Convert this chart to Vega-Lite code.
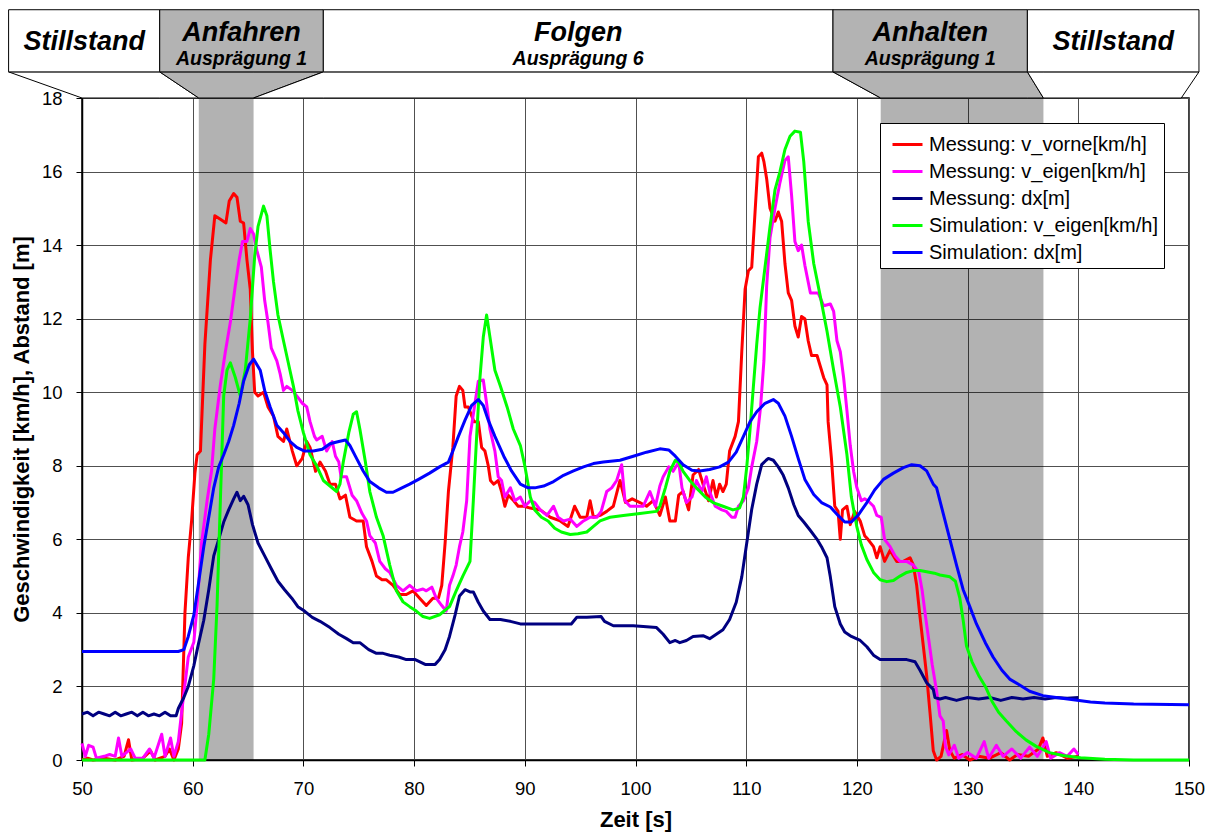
{
  "$schema": "https://vega.github.io/schema/vega-lite/v6.json",
  "width": 1107,
  "height": 662,
  "autosize": {"type": "none"},
  "padding": {"left": 82, "top": 98, "right": 24, "bottom": 74},
  "background": "white",
  "config": {
    "font": "Liberation Sans",
    "view": {"stroke": "black", "strokeWidth": 1.5},
    "axis": {"domainColor": "black", "domainWidth": 1.5, "tickColor": "black", "tickWidth": 1, "tickSize": 6, "labelColor": "black", "labelFont": "Liberation Sans", "labelFontSize": 18.5, "titleColor": "black", "titleFont": "Liberation Sans", "titleFontSize": 22, "titleFontWeight": "bold", "gridColor": "#505050", "gridWidth": 1, "gridOpacity": 1, "labelFlush": false, "labelOverlap": false},
    "axisX": {"labelPadding": 13, "titlePadding": 12},
    "axisY": {"labelPadding": 14, "titlePadding": 8}
  },
  "datasets": {
    "phases": [
      {"nr": 1, "phase": "Stillstand", "sub": "", "kind": "Zustand", "start": 50, "end": 60.55, "box_start": 43.37, "box_end": 57.02},
      {"nr": 2, "phase": "Anfahren", "sub": "Ausprägung 1", "kind": "Übergang", "start": 60.55, "end": 65.5, "box_start": 57.02, "box_end": 71.8},
      {"nr": 3, "phase": "Folgen", "sub": "Ausprägung 6", "kind": "Zustand", "start": 65.5, "end": 122.15, "box_start": 71.8, "box_end": 117.84},
      {"nr": 4, "phase": "Anhalten", "sub": "Ausprägung 1", "kind": "Übergang", "start": 122.15, "end": 136.85, "box_start": 117.84, "box_end": 135.4},
      {"nr": 5, "phase": "Stillstand", "sub": "", "kind": "Zustand", "start": 136.85, "end": 149.3, "box_start": 135.4, "box_end": 150.9}
    ],
    "connectors": [
      {"nr": 1, "kind": "Zustand", "t": 43.37, "lo": 18.71, "hi": 18.71},
      {"nr": 1, "kind": "Zustand", "t": 50, "lo": 18, "hi": 18.71},
      {"nr": 1, "kind": "Zustand", "t": 57.02, "lo": 18, "hi": 18.71},
      {"nr": 1, "kind": "Zustand", "t": 60.55, "lo": 18, "hi": 18},
      {"nr": 2, "kind": "Übergang", "t": 57.02, "lo": 18.71, "hi": 18.71},
      {"nr": 2, "kind": "Übergang", "t": 60.55, "lo": 18, "hi": 18.71},
      {"nr": 2, "kind": "Übergang", "t": 65.5, "lo": 18, "hi": 18.71},
      {"nr": 2, "kind": "Übergang", "t": 71.8, "lo": 18.71, "hi": 18.71},
      {"nr": 3, "kind": "Zustand", "t": 65.5, "lo": 18, "hi": 18},
      {"nr": 3, "kind": "Zustand", "t": 71.8, "lo": 18, "hi": 18.71},
      {"nr": 3, "kind": "Zustand", "t": 117.84, "lo": 18, "hi": 18.71},
      {"nr": 3, "kind": "Zustand", "t": 122.15, "lo": 18, "hi": 18},
      {"nr": 4, "kind": "Übergang", "t": 117.84, "lo": 18.71, "hi": 18.71},
      {"nr": 4, "kind": "Übergang", "t": 122.15, "lo": 18, "hi": 18.71},
      {"nr": 4, "kind": "Übergang", "t": 135.4, "lo": 18, "hi": 18.71},
      {"nr": 4, "kind": "Übergang", "t": 136.85, "lo": 18, "hi": 18},
      {"nr": 5, "kind": "Zustand", "t": 135.4, "lo": 18.71, "hi": 18.71},
      {"nr": 5, "kind": "Zustand", "t": 136.85, "lo": 18, "hi": 18.71},
      {"nr": 5, "kind": "Zustand", "t": 149.3, "lo": 18, "hi": 18.71},
      {"nr": 5, "kind": "Zustand", "t": 150.9, "lo": 18.71, "hi": 18.71}
    ],
    "v_vorne": [
      {"t":50,"v":0},{"t":50.5,"v":0.05},{"t":51,"v":0},{"t":52,"v":0.05},{"t":53,"v":0},{"t":53.8,"v":0.1},{"t":54.2,"v":0.55},{"t":54.5,"v":0},{"t":55.5,"v":0.05},{"t":56.2,"v":0.25},{"t":56.6,"v":0},{"t":57.5,"v":0.1},{"t":57.9,"v":0.3},{"t":58.3,"v":0},{"t":58.7,"v":0.3},{"t":59,"v":1},{"t":59.3,"v":4},{"t":59.6,"v":5.5},{"t":59.9,"v":6.5},{"t":60.2,"v":7.8},{"t":60.4,"v":8.3},{"t":60.7,"v":8.4},{"t":61.1,"v":11.3},{"t":61.6,"v":13.6},{"t":62,"v":14.8},{"t":62.5,"v":14.7},{"t":63,"v":14.6},{"t":63.3,"v":15.2},{"t":63.7,"v":15.4},{"t":64,"v":15.3},{"t":64.3,"v":14.65},{"t":64.6,"v":14.6},{"t":64.9,"v":13.6},{"t":65.2,"v":12.8},{"t":65.4,"v":11.1},{"t":65.6,"v":10},{"t":65.9,"v":9.9},{"t":66.4,"v":10},{"t":66.8,"v":9.6},{"t":67.3,"v":9.35},{"t":67.7,"v":8.8},{"t":68.2,"v":8.66},{"t":68.5,"v":9},{"t":69,"v":8.4},{"t":69.4,"v":8},{"t":69.9,"v":8.2},{"t":70.3,"v":8.66},{"t":70.6,"v":8.5},{"t":71.1,"v":7.85},{"t":71.5,"v":8.1},{"t":72,"v":7.85},{"t":72.4,"v":7.5},{"t":72.9,"v":7.5},{"t":73.3,"v":7.1},{"t":73.8,"v":7.2},{"t":74.2,"v":6.6},{"t":74.8,"v":6.5},{"t":75.4,"v":6.5},{"t":75.7,"v":5.8},{"t":76.2,"v":5.4},{"t":76.6,"v":5},{"t":77.1,"v":4.9},{"t":77.5,"v":4.9},{"t":78.1,"v":4.75},{"t":78.7,"v":4.5},{"t":79.3,"v":4.5},{"t":79.9,"v":4.6},{"t":80.5,"v":4.4},{"t":81.1,"v":4.2},{"t":81.7,"v":4.4},{"t":82.2,"v":4.4},{"t":82.5,"v":4.75},{"t":82.8,"v":5.9},{"t":83.1,"v":7.3},{"t":83.5,"v":8.5},{"t":83.8,"v":9.9},{"t":84.1,"v":10.16},{"t":84.4,"v":10.05},{"t":84.6,"v":9.6},{"t":84.9,"v":9.6},{"t":85.4,"v":9.2},{"t":85.8,"v":9.2},{"t":86.1,"v":8.5},{"t":86.4,"v":8.4},{"t":86.7,"v":8},{"t":86.9,"v":7.6},{"t":87.2,"v":7.5},{"t":87.6,"v":7.6},{"t":87.9,"v":7.3},{"t":88.2,"v":6.9},{"t":88.5,"v":7.2},{"t":89,"v":7.05},{"t":89.4,"v":6.9},{"t":89.9,"v":6.9},{"t":90.5,"v":6.85},{"t":91.4,"v":6.8},{"t":92.3,"v":6.6},{"t":93.2,"v":6.5},{"t":93.9,"v":6.35},{"t":94.5,"v":6.9},{"t":95,"v":6.6},{"t":95.6,"v":6.6},{"t":95.9,"v":7.05},{"t":96.2,"v":6.6},{"t":96.8,"v":6.65},{"t":97.4,"v":6.76},{"t":98,"v":6.9},{"t":98.6,"v":7.6},{"t":99.1,"v":7},{"t":99.7,"v":7.1},{"t":100.4,"v":7},{"t":101,"v":6.9},{"t":101.6,"v":7.05},{"t":102.2,"v":6.65},{"t":102.7,"v":7.15},{"t":103.1,"v":6.5},{"t":103.6,"v":6.5},{"t":103.9,"v":7.2},{"t":104.3,"v":7.3},{"t":104.8,"v":6.8},{"t":105.2,"v":7.75},{"t":105.7,"v":7.9},{"t":106.1,"v":7.5},{"t":106.6,"v":7.05},{"t":107,"v":7.6},{"t":107.3,"v":7.15},{"t":107.6,"v":7.5},{"t":107.9,"v":7.3},{"t":108.2,"v":7.5},{"t":108.5,"v":8.4},{"t":109,"v":8.8},{"t":109.3,"v":9.2},{"t":109.6,"v":11.1},{"t":109.9,"v":12.8},{"t":110.2,"v":13.3},{"t":110.5,"v":13.4},{"t":110.8,"v":14.9},{"t":111.1,"v":16.4},{"t":111.4,"v":16.5},{"t":111.6,"v":16.27},{"t":111.85,"v":15.8},{"t":112.15,"v":15},{"t":112.6,"v":14.65},{"t":112.9,"v":14.9},{"t":113.2,"v":14.65},{"t":113.5,"v":13.5},{"t":113.8,"v":12.7},{"t":114.1,"v":12.5},{"t":114.4,"v":11.8},{"t":114.7,"v":11.5},{"t":115,"v":12.06},{"t":115.3,"v":12},{"t":115.6,"v":11.4},{"t":115.9,"v":11},{"t":116.4,"v":11},{"t":116.7,"v":10.7},{"t":117,"v":10.4},{"t":117.3,"v":10.2},{"t":117.4,"v":9.2},{"t":117.7,"v":8.2},{"t":118,"v":6.9},{"t":118.3,"v":6.76},{"t":118.5,"v":6},{"t":118.7,"v":6.8},{"t":119.1,"v":6.9},{"t":119.4,"v":6.4},{"t":119.8,"v":6.76},{"t":120.3,"v":6.5},{"t":120.7,"v":6.1},{"t":121,"v":6},{"t":121.5,"v":5.8},{"t":121.8,"v":5.5},{"t":122.1,"v":5.8},{"t":122.5,"v":5.4},{"t":123,"v":5.7},{"t":123.6,"v":5.4},{"t":124.2,"v":5.4},{"t":124.8,"v":5.5},{"t":125.1,"v":5.3},{"t":125.4,"v":4.75},{"t":125.7,"v":3.9},{"t":126,"v":3.1},{"t":126.3,"v":2.3},{"t":126.6,"v":1.3},{"t":126.9,"v":0.25},{"t":127.2,"v":0},{"t":127.6,"v":0.1},{"t":128.1,"v":0.8},{"t":128.4,"v":0.25},{"t":128.8,"v":0.05},{"t":129.5,"v":0.15},{"t":130.2,"v":0},{"t":131,"v":0.1},{"t":132,"v":0.05},{"t":133,"v":0.2},{"t":133.8,"v":0},{"t":134.5,"v":0.15},{"t":135.5,"v":0.1},{"t":136.4,"v":0.3},{"t":136.8,"v":0.6},{"t":137.2,"v":0.1},{"t":138,"v":0.2},{"t":139,"v":0.05},{"t":140,"v":0.1}
    ],
    "v_eigen": [
      {"t":50,"v":0.45},{"t":50.3,"v":0.1},{"t":50.6,"v":0.4},{"t":51,"v":0.35},{"t":51.3,"v":0.05},{"t":52,"v":0.1},{"t":52.5,"v":0.15},{"t":53,"v":0.1},{"t":53.3,"v":0.6},{"t":53.6,"v":0.1},{"t":54.4,"v":0.3},{"t":54.8,"v":0.05},{"t":55.5,"v":0.05},{"t":56.1,"v":0.3},{"t":56.5,"v":0.05},{"t":57.2,"v":0.7},{"t":57.5,"v":0.1},{"t":58,"v":0.6},{"t":58.3,"v":0.1},{"t":58.7,"v":0.5},{"t":59,"v":1.3},{"t":59.6,"v":2.8},{"t":60.1,"v":3.2},{"t":60.4,"v":4.2},{"t":60.8,"v":5.9},{"t":61.3,"v":7.05},{"t":61.7,"v":7.85},{"t":62,"v":9},{"t":62.5,"v":10.2},{"t":62.95,"v":11.1},{"t":63.4,"v":11.9},{"t":63.85,"v":12.9},{"t":64.2,"v":13.6},{"t":64.5,"v":14.1},{"t":64.9,"v":14.1},{"t":65.2,"v":14.45},{"t":65.5,"v":14.3},{"t":65.8,"v":13.85},{"t":66.2,"v":13.4},{"t":66.5,"v":12.5},{"t":66.8,"v":11.9},{"t":67.1,"v":11.2},{"t":67.6,"v":10.85},{"t":67.9,"v":10.5},{"t":68.2,"v":10.05},{"t":68.5,"v":10.16},{"t":69,"v":10.05},{"t":69.4,"v":9.9},{"t":69.9,"v":9.7},{"t":70.3,"v":9.6},{"t":70.6,"v":9.2},{"t":71,"v":8.8},{"t":71.2,"v":8.7},{"t":71.7,"v":8.8},{"t":72.1,"v":8.4},{"t":72.6,"v":8.66},{"t":72.9,"v":8.26},{"t":73.2,"v":8.1},{"t":73.4,"v":7.7},{"t":73.9,"v":7.7},{"t":74.4,"v":7.2},{"t":74.8,"v":7.05},{"t":75.3,"v":6.7},{"t":75.7,"v":6.5},{"t":76,"v":6.1},{"t":76.5,"v":5.9},{"t":76.9,"v":5.4},{"t":77.4,"v":5.2},{"t":77.8,"v":5.1},{"t":78.4,"v":4.75},{"t":79,"v":4.6},{"t":79.6,"v":4.75},{"t":80.2,"v":4.6},{"t":80.8,"v":4.65},{"t":81.1,"v":4.6},{"t":81.6,"v":4.7},{"t":82,"v":4.4},{"t":82.5,"v":4.2},{"t":82.9,"v":4.05},{"t":83.2,"v":4.75},{"t":83.5,"v":5},{"t":83.8,"v":5.3},{"t":84.1,"v":5.8},{"t":84.4,"v":6.2},{"t":84.75,"v":7.05},{"t":85.05,"v":8.8},{"t":85.5,"v":9.7},{"t":85.8,"v":10.3},{"t":86.25,"v":10.33},{"t":86.55,"v":9.7},{"t":86.85,"v":9},{"t":87.3,"v":8.4},{"t":87.6,"v":7.7},{"t":87.9,"v":7.6},{"t":88.2,"v":7.15},{"t":88.7,"v":7.4},{"t":89.1,"v":7.05},{"t":89.6,"v":7.15},{"t":90,"v":6.9},{"t":90.5,"v":7.05},{"t":90.9,"v":7},{"t":91.4,"v":6.8},{"t":92,"v":6.65},{"t":92.6,"v":6.9},{"t":93,"v":6.6},{"t":93.5,"v":6.5},{"t":94.1,"v":6.55},{"t":94.7,"v":6.35},{"t":95.3,"v":6.5},{"t":95.9,"v":6.6},{"t":96.5,"v":6.6},{"t":96.9,"v":6.76},{"t":97.4,"v":7.3},{"t":97.85,"v":7.4},{"t":98.3,"v":7.6},{"t":98.75,"v":8.03},{"t":99.05,"v":7.05},{"t":99.5,"v":6.9},{"t":100.1,"v":6.9},{"t":100.7,"v":6.9},{"t":101.3,"v":7.3},{"t":101.8,"v":6.9},{"t":102.2,"v":7.45},{"t":102.5,"v":7.7},{"t":103,"v":7.97},{"t":103.4,"v":7.85},{"t":103.9,"v":8.1},{"t":104.2,"v":7.4},{"t":104.6,"v":7},{"t":105.1,"v":7.15},{"t":105.5,"v":7.6},{"t":106,"v":7.3},{"t":106.4,"v":7.7},{"t":106.7,"v":7.3},{"t":107.2,"v":6.9},{"t":107.8,"v":6.8},{"t":108.2,"v":6.76},{"t":108.7,"v":6.6},{"t":109,"v":6.6},{"t":109.3,"v":6.9},{"t":109.75,"v":7.05},{"t":110.2,"v":7.4},{"t":110.5,"v":7.97},{"t":110.95,"v":8.66},{"t":111.3,"v":9.6},{"t":111.6,"v":10.85},{"t":111.85,"v":12.9},{"t":112.15,"v":14.2},{"t":112.6,"v":15},{"t":113.05,"v":15.7},{"t":113.5,"v":16.3},{"t":113.8,"v":16.4},{"t":114.1,"v":15.35},{"t":114.4,"v":14.1},{"t":114.7,"v":13.85},{"t":115,"v":14},{"t":115.3,"v":13.45},{"t":115.8,"v":12.7},{"t":116.5,"v":12.7},{"t":117,"v":12.35},{"t":117.6,"v":12.4},{"t":117.9,"v":12.2},{"t":118.2,"v":11.4},{"t":118.5,"v":11.1},{"t":118.8,"v":10.4},{"t":119.1,"v":9.5},{"t":119.4,"v":8.55},{"t":119.7,"v":7.85},{"t":120,"v":7.4},{"t":120.4,"v":7.05},{"t":120.7,"v":7.1},{"t":121,"v":7.05},{"t":121.5,"v":6.9},{"t":121.8,"v":6.65},{"t":122.2,"v":6.6},{"t":122.5,"v":6},{"t":123,"v":5.8},{"t":123.45,"v":5.55},{"t":123.9,"v":5.4},{"t":124.5,"v":5.4},{"t":125.1,"v":5.3},{"t":125.6,"v":5.1},{"t":125.9,"v":4.6},{"t":126.2,"v":3.9},{"t":126.5,"v":3.25},{"t":126.8,"v":2.6},{"t":127.2,"v":1.87},{"t":127.5,"v":1.2},{"t":127.8,"v":1.06},{"t":128,"v":0.37},{"t":128.3,"v":0.14},{"t":128.8,"v":0.4},{"t":129.2,"v":0.05},{"t":130,"v":0.2},{"t":130.8,"v":0.05},{"t":131.5,"v":0.5},{"t":131.9,"v":0.05},{"t":132.6,"v":0.4},{"t":133.2,"v":0.1},{"t":134,"v":0.3},{"t":134.8,"v":0.05},{"t":135.6,"v":0.35},{"t":136.3,"v":0.1},{"t":137.1,"v":0.5},{"t":137.5,"v":0.05},{"t":138.3,"v":0.2},{"t":139,"v":0.1},{"t":139.6,"v":0.3},{"t":140,"v":0.15}
    ],
    "dx_mess": [
      {"t":50,"v":1.25},{"t":50.5,"v":1.3},{"t":51,"v":1.2},{"t":51.5,"v":1.3},{"t":52,"v":1.25},{"t":52.5,"v":1.2},{"t":53,"v":1.3},{"t":53.5,"v":1.2},{"t":54,"v":1.25},{"t":54.5,"v":1.3},{"t":55,"v":1.2},{"t":55.5,"v":1.3},{"t":56,"v":1.2},{"t":56.5,"v":1.25},{"t":57,"v":1.2},{"t":57.5,"v":1.3},{"t":58,"v":1.2},{"t":58.5,"v":1.2},{"t":58.7,"v":1.4},{"t":59.2,"v":1.7},{"t":59.6,"v":2},{"t":60.1,"v":2.56},{"t":60.5,"v":3.13},{"t":61,"v":3.8},{"t":61.45,"v":4.63},{"t":61.9,"v":5.55},{"t":62.35,"v":6},{"t":62.8,"v":6.47},{"t":63.25,"v":6.8},{"t":63.7,"v":7.1},{"t":64,"v":7.28},{"t":64.3,"v":7.05},{"t":64.6,"v":7.17},{"t":65,"v":6.94},{"t":65.4,"v":6.4},{"t":65.9,"v":5.9},{"t":66.5,"v":5.55},{"t":67.1,"v":5.2},{"t":67.7,"v":4.86},{"t":68.3,"v":4.63},{"t":68.95,"v":4.4},{"t":69.5,"v":4.17},{"t":70.1,"v":4.05},{"t":70.8,"v":3.88},{"t":71.5,"v":3.77},{"t":72.4,"v":3.6},{"t":73.2,"v":3.42},{"t":73.9,"v":3.3},{"t":74.5,"v":3.19},{"t":75.1,"v":3.19},{"t":75.9,"v":3},{"t":76.6,"v":2.9},{"t":77.2,"v":2.9},{"t":77.8,"v":2.85},{"t":78.6,"v":2.8},{"t":79.3,"v":2.73},{"t":80.1,"v":2.73},{"t":81,"v":2.6},{"t":81.9,"v":2.6},{"t":82.3,"v":2.73},{"t":82.8,"v":3},{"t":83.2,"v":3.36},{"t":83.7,"v":3.94},{"t":84.1,"v":4.46},{"t":84.6,"v":4.63},{"t":85.05,"v":4.57},{"t":85.35,"v":4.57},{"t":85.8,"v":4.29},{"t":86.25,"v":4.05},{"t":86.85,"v":3.82},{"t":87.8,"v":3.82},{"t":88.7,"v":3.77},{"t":89.6,"v":3.7},{"t":91.1,"v":3.7},{"t":92.6,"v":3.7},{"t":94.2,"v":3.7},{"t":94.7,"v":3.88},{"t":95.6,"v":3.88},{"t":96.9,"v":3.9},{"t":97.2,"v":3.77},{"t":98,"v":3.65},{"t":99.8,"v":3.65},{"t":101.9,"v":3.6},{"t":102.5,"v":3.42},{"t":103.1,"v":3.19},{"t":103.6,"v":3.25},{"t":104,"v":3.19},{"t":104.6,"v":3.25},{"t":105.2,"v":3.36},{"t":106.1,"v":3.38},{"t":106.7,"v":3.3},{"t":107.3,"v":3.42},{"t":107.9,"v":3.54},{"t":108.5,"v":3.82},{"t":109.1,"v":4.29},{"t":109.6,"v":4.98},{"t":110.05,"v":5.9},{"t":110.5,"v":6.82},{"t":110.95,"v":7.5},{"t":111.4,"v":8.03},{"t":111.8,"v":8.15},{"t":112,"v":8.2},{"t":112.45,"v":8.15},{"t":112.9,"v":7.97},{"t":113.35,"v":7.74},{"t":113.8,"v":7.4},{"t":114.3,"v":6.94},{"t":114.7,"v":6.65},{"t":115.2,"v":6.47},{"t":115.8,"v":6.24},{"t":116.4,"v":6},{"t":116.8,"v":5.8},{"t":117.3,"v":5.5},{"t":117.6,"v":4.98},{"t":118,"v":4.17},{"t":118.5,"v":3.7},{"t":118.9,"v":3.48},{"t":119.5,"v":3.36},{"t":120.3,"v":3.25},{"t":120.9,"v":3.08},{"t":121.5,"v":2.85},{"t":122.1,"v":2.73},{"t":123.3,"v":2.73},{"t":124.5,"v":2.73},{"t":125.25,"v":2.67},{"t":125.7,"v":2.44},{"t":126.3,"v":2.1},{"t":126.9,"v":1.92},{"t":127.05,"v":1.7},{"t":127.5,"v":1.66},{"t":128,"v":1.7},{"t":129,"v":1.62},{"t":130,"v":1.7},{"t":131,"v":1.66},{"t":132,"v":1.7},{"t":133,"v":1.62},{"t":134,"v":1.7},{"t":135,"v":1.66},{"t":136,"v":1.7},{"t":137,"v":1.66},{"t":138,"v":1.7},{"t":139,"v":1.68},{"t":140,"v":1.7}
    ],
    "v_sim": [
      {"t":50,"v":0},{"t":61.1,"v":0},{"t":61.45,"v":0.7},{"t":61.9,"v":2.2},{"t":62.2,"v":4.2},{"t":62.5,"v":7.05},{"t":62.8,"v":9.9},{"t":63.1,"v":10.6},{"t":63.4,"v":10.8},{"t":63.85,"v":10.4},{"t":64.3,"v":9.9},{"t":64.75,"v":10.6},{"t":65.2,"v":12},{"t":65.6,"v":13.7},{"t":65.9,"v":14.5},{"t":66.4,"v":15.06},{"t":66.7,"v":14.8},{"t":67,"v":13.85},{"t":67.3,"v":13},{"t":67.7,"v":12.1},{"t":68.2,"v":11.4},{"t":68.6,"v":10.85},{"t":69.1,"v":10.16},{"t":69.5,"v":9.5},{"t":70,"v":8.9},{"t":70.6,"v":8.3},{"t":71.2,"v":8},{"t":71.8,"v":7.6},{"t":72.4,"v":7.45},{"t":73,"v":7.3},{"t":73.3,"v":7.5},{"t":73.6,"v":8.1},{"t":74.1,"v":8.9},{"t":74.5,"v":9.4},{"t":74.8,"v":9.47},{"t":75.1,"v":9},{"t":75.6,"v":8.1},{"t":76,"v":7.3},{"t":76.6,"v":6.6},{"t":77.2,"v":6.1},{"t":77.8,"v":5.3},{"t":78.4,"v":4.6},{"t":79,"v":4.3},{"t":79.6,"v":4.17},{"t":80.2,"v":4.05},{"t":80.8,"v":3.9},{"t":81.4,"v":3.85},{"t":82.3,"v":3.95},{"t":83.2,"v":4.17},{"t":83.8,"v":4.6},{"t":84.4,"v":5},{"t":85.05,"v":5.4},{"t":85.35,"v":7.05},{"t":85.65,"v":8.8},{"t":85.95,"v":10.4},{"t":86.25,"v":11.5},{"t":86.55,"v":12.1},{"t":86.85,"v":11.5},{"t":87.3,"v":10.6},{"t":87.8,"v":10.16},{"t":88.4,"v":9.6},{"t":88.96,"v":9},{"t":89.6,"v":8.55},{"t":90,"v":8},{"t":90.5,"v":7.15},{"t":90.9,"v":6.8},{"t":91.5,"v":6.6},{"t":92.1,"v":6.5},{"t":92.7,"v":6.3},{"t":93.3,"v":6.2},{"t":94.1,"v":6.13},{"t":94.8,"v":6.15},{"t":95.6,"v":6.2},{"t":96.2,"v":6.35},{"t":96.8,"v":6.5},{"t":97.7,"v":6.6},{"t":98.9,"v":6.65},{"t":100.4,"v":6.7},{"t":101.9,"v":6.76},{"t":102.2,"v":6.9},{"t":102.7,"v":7.4},{"t":103.1,"v":7.85},{"t":103.6,"v":8.15},{"t":103.9,"v":8.1},{"t":104.3,"v":7.85},{"t":104.9,"v":7.6},{"t":105.5,"v":7.4},{"t":106.3,"v":7.15},{"t":107,"v":7},{"t":107.9,"v":6.9},{"t":108.8,"v":6.8},{"t":109.4,"v":6.85},{"t":109.75,"v":7.15},{"t":110.05,"v":7.97},{"t":110.35,"v":9},{"t":110.65,"v":10.16},{"t":110.95,"v":11.3},{"t":111.25,"v":12.3},{"t":111.7,"v":13.4},{"t":112.15,"v":14.5},{"t":112.6,"v":15.5},{"t":113.05,"v":16},{"t":113.5,"v":16.6},{"t":113.96,"v":16.96},{"t":114.4,"v":17.1},{"t":114.9,"v":17.07},{"t":115.2,"v":16.27},{"t":115.6,"v":14.65},{"t":116.1,"v":13.5},{"t":116.7,"v":12.6},{"t":117.3,"v":11.66},{"t":117.9,"v":10.6},{"t":118.5,"v":9.6},{"t":119.1,"v":8.3},{"t":119.5,"v":7.15},{"t":119.98,"v":6.36},{"t":120.4,"v":5.85},{"t":120.9,"v":5.45},{"t":121.5,"v":5.1},{"t":122.1,"v":4.9},{"t":122.7,"v":4.85},{"t":123.3,"v":4.88},{"t":123.9,"v":5},{"t":124.5,"v":5.1},{"t":125.1,"v":5.15},{"t":125.7,"v":5.15},{"t":126.3,"v":5.12},{"t":127,"v":5.08},{"t":127.5,"v":5.03},{"t":128.4,"v":4.98},{"t":128.9,"v":4.86},{"t":129.3,"v":4.4},{"t":129.6,"v":3.8},{"t":129.9,"v":3.1},{"t":130.4,"v":2.67},{"t":131,"v":2.3},{"t":131.6,"v":2},{"t":132.2,"v":1.6},{"t":132.8,"v":1.3},{"t":133.5,"v":1.06},{"t":134.4,"v":0.77},{"t":135.3,"v":0.54},{"t":136.2,"v":0.37},{"t":137.4,"v":0.2},{"t":138.6,"v":0.12},{"t":140.2,"v":0.06},{"t":142.4,"v":0.02},{"t":145,"v":0},{"t":150,"v":0}
    ],
    "dx_sim": [
      {"t":50,"v":2.95},{"t":58.7,"v":2.95},{"t":59.2,"v":3},{"t":59.6,"v":3.36},{"t":60.1,"v":3.94},{"t":60.5,"v":4.75},{"t":61,"v":5.8},{"t":61.45,"v":6.6},{"t":61.9,"v":7.4},{"t":62.35,"v":7.97},{"t":62.8,"v":8.3},{"t":63.25,"v":8.66},{"t":63.7,"v":9.1},{"t":64.2,"v":9.7},{"t":64.6,"v":10.3},{"t":65.1,"v":10.74},{"t":65.5,"v":10.9},{"t":66.1,"v":10.6},{"t":66.5,"v":10.05},{"t":67,"v":9.6},{"t":67.6,"v":9.1},{"t":68.2,"v":8.9},{"t":68.8,"v":8.66},{"t":69.4,"v":8.5},{"t":70.1,"v":8.4},{"t":70.9,"v":8.4},{"t":71.7,"v":8.45},{"t":72.4,"v":8.6},{"t":73.2,"v":8.66},{"t":73.8,"v":8.7},{"t":74.2,"v":8.55},{"t":74.8,"v":8.2},{"t":75.4,"v":7.86},{"t":76,"v":7.57},{"t":76.8,"v":7.4},{"t":77.5,"v":7.28},{"t":78.1,"v":7.28},{"t":78.9,"v":7.4},{"t":79.6,"v":7.5},{"t":80.4,"v":7.63},{"t":81.4,"v":7.8},{"t":82.3,"v":7.97},{"t":83.1,"v":8.1},{"t":83.5,"v":8.4},{"t":84,"v":8.8},{"t":84.6,"v":9.24},{"t":85.2,"v":9.64},{"t":85.8,"v":9.8},{"t":86.25,"v":9.64},{"t":86.7,"v":9.24},{"t":87.3,"v":8.8},{"t":88.1,"v":8.26},{"t":88.8,"v":7.86},{"t":89.6,"v":7.5},{"t":90.3,"v":7.4},{"t":90.9,"v":7.4},{"t":91.7,"v":7.45},{"t":92.6,"v":7.57},{"t":93.5,"v":7.74},{"t":94.4,"v":7.86},{"t":95.3,"v":7.97},{"t":96.2,"v":8.06},{"t":97.1,"v":8.1},{"t":98.6,"v":8.15},{"t":99.8,"v":8.26},{"t":101,"v":8.37},{"t":102.2,"v":8.46},{"t":103,"v":8.43},{"t":103.6,"v":8.26},{"t":104.3,"v":8.03},{"t":105.1,"v":7.88},{"t":105.8,"v":7.86},{"t":106.7,"v":7.9},{"t":107.6,"v":7.97},{"t":108.4,"v":8.1},{"t":109.1,"v":8.37},{"t":109.75,"v":8.8},{"t":110.35,"v":9.2},{"t":110.95,"v":9.47},{"t":111.7,"v":9.7},{"t":112.45,"v":9.8},{"t":112.9,"v":9.7},{"t":113.5,"v":9.35},{"t":114.1,"v":8.8},{"t":114.7,"v":8.2},{"t":115.3,"v":7.63},{"t":116.1,"v":7.22},{"t":116.8,"v":7},{"t":117.6,"v":6.88},{"t":118.3,"v":6.65},{"t":118.9,"v":6.47},{"t":119.5,"v":6.47},{"t":120.1,"v":6.65},{"t":120.9,"v":7},{"t":121.6,"v":7.34},{"t":122.4,"v":7.63},{"t":123.3,"v":7.8},{"t":124.2,"v":7.95},{"t":124.95,"v":8.03},{"t":125.7,"v":8},{"t":126.3,"v":7.86},{"t":126.9,"v":7.5},{"t":127.2,"v":7.4},{"t":127.8,"v":6.7},{"t":128.4,"v":6},{"t":129,"v":5.3},{"t":129.6,"v":4.63},{"t":130.2,"v":4.17},{"t":130.8,"v":3.7},{"t":131.6,"v":3.19},{"t":132.3,"v":2.8},{"t":133.1,"v":2.44},{"t":133.8,"v":2.2},{"t":134.7,"v":2.04},{"t":135.6,"v":1.87},{"t":136.8,"v":1.75},{"t":138,"v":1.7},{"t":139.55,"v":1.64},{"t":141.1,"v":1.58},{"t":142.4,"v":1.55},{"t":145,"v":1.52},{"t":150,"v":1.5}
    ]
  },
  "layer": [
    {
      "data": {"name": "phases"},
      "transform": [{"filter": "datum.kind === 'Übergang'"}],
      "mark": {"type": "rect", "fill": "black", "fillOpacity": 0.3},
      "encoding": {
        "x": {"field": "start", "type": "quantitative", "scale": {"domain": [50, 150], "nice": false}, "title": "Zeit [s]", "axis": {"values": [50, 60, 70, 80, 90, 100, 110, 120, 130, 140, 150]}},
        "x2": {"field": "end"}
      }
    },
    {
      "data": {"name": "connectors"},
      "mark": {"type": "area", "orient": "vertical", "stroke": "black", "strokeWidth": 1, "clip": false},
      "encoding": {
        "x": {"field": "t", "type": "quantitative", "scale": {"domain": [50, 150], "nice": false}, "title": "Zeit [s]"},
        "y": {"field": "lo", "type": "quantitative", "scale": {"domain": [0, 18], "nice": false}, "title": "Geschwindigkeit [km/h], Abstand [m]", "axis": {"values": [0, 2, 4, 6, 8, 10, 12, 14, 16, 18]}},
        "y2": {"field": "hi"},
        "detail": {"field": "nr"},
        "fill": {"field": "kind", "type": "nominal", "scale": {"domain": ["Übergang", "Zustand"], "range": ["#b3b3b3", "white"]}, "legend": null}
      }
    },
    {
      "data": {"name": "phases"},
      "mark": {"type": "rect", "stroke": "black", "strokeWidth": 1, "clip": false},
      "encoding": {
        "x": {"field": "box_start", "type": "quantitative", "scale": {"domain": [50, 150], "nice": false}, "title": "Zeit [s]"},
        "x2": {"field": "box_end"},
        "y": {"datum": 20.4, "type": "quantitative", "scale": {"domain": [0, 18], "nice": false}, "title": "Geschwindigkeit [km/h], Abstand [m]"},
        "y2": {"datum": 18.71},
        "fill": {"field": "kind", "type": "nominal", "legend": null}
      }
    },
    {
      "data": {"name": "phases"},
      "transform": [{"filter": "datum.sub !== ''"}, {"calculate": "(datum.box_start + datum.box_end) / 2", "as": "mid"}],
      "mark": {"type": "text", "font": "Liberation Sans", "fontWeight": "bold", "fontStyle": "italic", "fontSize": 27, "baseline": "alphabetic", "align": "center", "color": "black", "clip": false},
      "encoding": {
        "x": {"field": "mid", "type": "quantitative", "title": "Zeit [s]"},
        "y": {"datum": 19.55, "type": "quantitative", "title": "Geschwindigkeit [km/h], Abstand [m]"},
        "text": {"field": "phase"}
      }
    },
    {
      "data": {"name": "phases"},
      "transform": [{"filter": "datum.sub !== ''"}, {"calculate": "(datum.box_start + datum.box_end) / 2", "as": "mid"}],
      "mark": {"type": "text", "font": "Liberation Sans", "fontWeight": "bold", "fontStyle": "italic", "fontSize": 19.5, "baseline": "alphabetic", "align": "center", "color": "black", "clip": false},
      "encoding": {
        "x": {"field": "mid", "type": "quantitative", "title": "Zeit [s]"},
        "y": {"datum": 18.9, "type": "quantitative", "title": "Geschwindigkeit [km/h], Abstand [m]"},
        "text": {"field": "sub"}
      }
    },
    {
      "data": {"name": "phases"},
      "transform": [{"filter": "datum.sub === ''"}, {"calculate": "(datum.box_start + datum.box_end) / 2", "as": "mid"}],
      "mark": {"type": "text", "font": "Liberation Sans", "fontWeight": "bold", "fontStyle": "italic", "fontSize": 27, "baseline": "alphabetic", "align": "center", "color": "black", "clip": false},
      "encoding": {
        "x": {"field": "mid", "type": "quantitative", "title": "Zeit [s]"},
        "y": {"datum": 19.3, "type": "quantitative", "title": "Geschwindigkeit [km/h], Abstand [m]"},
        "text": {"field": "phase"}
      }
    },
    {
      "data": {"name": "v_vorne"},
      "mark": {"type": "line", "strokeWidth": 3, "strokeJoin": "round"},
      "encoding": {
        "x": {"field": "t", "type": "quantitative", "title": "Zeit [s]"},
        "y": {"field": "v", "type": "quantitative", "title": "Geschwindigkeit [km/h], Abstand [m]"},
        "color": {
          "datum": "Messung: v_vorne[km/h]", "type": "nominal",
          "scale": {"domain": ["Messung: v_vorne[km/h]", "Messung: v_eigen[km/h]", "Messung: dx[m]", "Simulation: v_eigen[km/h]", "Simulation: dx[m]"], "range": ["#ff0000", "#ff00ff", "#000080", "#00ff00", "#0000ff"]},
          "legend": {"orient": "none", "legendX": 798, "legendY": 25, "title": null, "symbolType": "stroke", "symbolStrokeWidth": 3, "symbolSize": 900, "labelFontSize": 20, "labelColor": "black", "labelFont": "Liberation Sans", "fillColor": "white", "strokeColor": "black", "padding": 5, "rowPadding": -2, "labelOffset": 5, "symbolOffset": 6, "labelLimit": 400}
        }
      }
    },
    {
      "data": {"name": "v_eigen"},
      "mark": {"type": "line", "strokeWidth": 3, "strokeJoin": "round"},
      "encoding": {
        "x": {"field": "t", "type": "quantitative", "title": "Zeit [s]"},
        "y": {"field": "v", "type": "quantitative", "title": "Geschwindigkeit [km/h], Abstand [m]"},
        "color": {"datum": "Messung: v_eigen[km/h]", "type": "nominal"}
      }
    },
    {
      "data": {"name": "dx_mess"},
      "mark": {"type": "line", "strokeWidth": 3, "strokeJoin": "round"},
      "encoding": {
        "x": {"field": "t", "type": "quantitative", "title": "Zeit [s]"},
        "y": {"field": "v", "type": "quantitative", "title": "Geschwindigkeit [km/h], Abstand [m]"},
        "color": {"datum": "Messung: dx[m]", "type": "nominal"}
      }
    },
    {
      "data": {"name": "v_sim"},
      "mark": {"type": "line", "strokeWidth": 3, "strokeJoin": "round"},
      "encoding": {
        "x": {"field": "t", "type": "quantitative", "title": "Zeit [s]"},
        "y": {"field": "v", "type": "quantitative", "title": "Geschwindigkeit [km/h], Abstand [m]"},
        "color": {"datum": "Simulation: v_eigen[km/h]", "type": "nominal"}
      }
    },
    {
      "data": {"name": "dx_sim"},
      "mark": {"type": "line", "strokeWidth": 3, "strokeJoin": "round"},
      "encoding": {
        "x": {"field": "t", "type": "quantitative", "title": "Zeit [s]"},
        "y": {"field": "v", "type": "quantitative", "title": "Geschwindigkeit [km/h], Abstand [m]"},
        "color": {"datum": "Simulation: dx[m]", "type": "nominal"}
      }
    }
  ]
}
